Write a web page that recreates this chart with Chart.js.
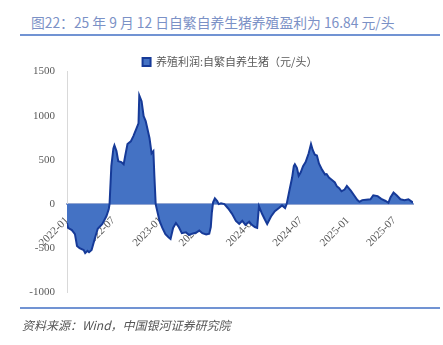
<!DOCTYPE html>
<html>
<head>
<meta charset="utf-8">
<script src="https://cdn.jsdelivr.net/npm/chart.js@4/dist/chart.umd.min.js"></script>
<style>
  body { margin: 0; width: 443px; height: 345px; background: #fff; position: relative; overflow: hidden; }
  #title { position: absolute; left: 31px; top: 12px; font: 13.8px "Noto Sans CJK SC", sans-serif; color: #7b91c6; white-space: nowrap; }
  .rule { position: absolute; left: 20px; width: 420px; height: 2px; background: #7193d3; }
  #src { position: absolute; left: 22px; top: 316px; font: italic 12px "Noto Sans CJK SC", sans-serif; color: #555; white-space: nowrap; }
  #wrap { position: absolute; left: 20px; top: 53px; width: 420px; height: 258px; }
</style>
</head>
<body>
<div id="title">图22：25 年 9 月 12 日自繁自养生猪养殖盈利为 16.84 元/头</div>
<div class="rule" style="top:34px"></div>
<div id="wrap"><canvas id="profitChart"></canvas></div>
<div class="rule" style="top:307px"></div>
<div id="src">资料来源：Wind，中国银河证券研究院</div>
<script>
const seriesName = '养殖利润:自繁自养生猪（元/头）';

const dates = [
  '2022-01-01', '2022-01-05', '2022-01-20', '2022-02-01', '2022-02-09', '2022-02-19', '2022-03-07', '2022-03-13',
  '2022-03-22', '2022-03-28', '2022-04-07', '2022-04-19', '2022-05-01', '2022-05-19', '2022-06-04', '2022-06-13',
  '2022-06-16', '2022-06-23', '2022-07-01', '2022-07-05', '2022-07-13', '2022-07-20', '2022-08-01', '2022-08-10',
  '2022-08-16', '2022-08-25', '2022-09-07', '2022-09-17', '2022-09-28', '2022-10-07', '2022-10-10', '2022-10-19',
  '2022-10-27', '2022-11-04', '2022-11-11', '2022-11-19', '2022-11-27', '2022-12-04', '2022-12-08', '2022-12-13',
  '2022-12-16', '2022-12-28', '2023-01-08', '2023-01-20', '2023-02-01', '2023-02-09', '2023-02-19', '2023-03-02',
  '2023-03-13', '2023-03-25', '2023-04-10', '2023-04-22', '2023-05-04', '2023-05-19', '2023-06-01', '2023-06-13',
  '2023-06-28', '2023-07-10', '2023-07-16', '2023-07-20', '2023-07-25', '2023-08-01', '2023-08-10', '2023-08-16',
  '2023-08-25', '2023-09-07', '2023-09-22', '2023-10-07', '2023-10-22', '2023-11-04', '2023-11-16', '2023-11-28',
  '2023-12-13', '2023-12-23', '2024-01-04', '2024-01-13', '2024-01-20', '2024-02-01', '2024-02-12', '2024-02-21',
  '2024-03-07', '2024-03-22', '2024-04-07', '2024-04-19', '2024-05-01', '2024-05-07', '2024-05-19', '2024-05-28',
  '2024-06-04', '2024-06-08', '2024-06-16', '2024-06-23', '2024-07-01', '2024-07-10', '2024-07-20', '2024-08-01',
  '2024-08-10', '2024-08-17', '2024-08-25', '2024-09-02', '2024-09-10', '2024-09-22', '2024-10-04', '2024-10-10',
  '2024-10-19', '2024-11-01', '2024-11-11', '2024-11-19', '2024-11-28', '2024-12-07', '2024-12-19', '2024-12-28',
  '2025-01-13', '2025-01-25', '2025-02-07', '2025-02-15', '2025-02-26', '2025-03-13', '2025-03-30', '2025-04-10',
  '2025-04-27', '2025-05-11', '2025-05-28', '2025-06-08', '2025-06-16', '2025-06-28', '2025-07-10', '2025-07-25',
  '2025-08-10', '2025-08-25', '2025-09-12'
];

const profit = [
  -215, -270, -295, -340, -475, -500, -520, -555,
  -530, -545, -520, -395, -280, -225, -135, -55,
  0, 430, 630, 665, 600, 485, 475, 450,
  545, 680, 710, 770, 850, 915, 1230, 1165,
  995, 940, 850, 745, 575, 600, 315, 0,
  -40, -190, -270, -340, -375, -395, -270, -215,
  -260, -330, -320, -350, -335, -325, -300, -330,
  -345, -335, -260, -100, 20, 65, 35, 0,
  10, 0, -50, -110, -190, -225, -190, -235,
  -200, -235, -260, -270, -25, -110, -175, -225,
  -140, -80, -45, -15, -45, 0, 170, 295,
  430, 450, 410, 320, 360, 430, 475, 575,
  680, 610, 560, 550, 460, 390, 335, 340,
  300, 270, 245, 200, 180, 145, 165, 205,
  150, 100, 45, 25, 45, 50, 55, 100,
  90, 60, 35, 15, 75, 130, 100, 55,
  45, 55, 16.84
];

const tickDates = ['2022-01-01', '2022-07-01', '2023-01-01', '2023-07-01', '2024-01-01', '2024-07-01', '2025-01-01', '2025-07-01'];
const yTicks = [-1000, -500, 0, 500, 1000, 1500];

const points = dates.map((d, i) => ({ x: Date.parse(d), y: profit[i] }));

new Chart(document.getElementById('profitChart'), {
  type: 'line',
  data: {
    datasets: [{
      label: seriesName,
      data: points,
      fill: 'origin',
      backgroundColor: '#4472c4',
      borderColor: '#163a98',
      borderWidth: 2,
      pointRadius: 0,
      tension: 0
    }]
  },
  options: {
    responsive: true,
    maintainAspectRatio: false,
    animation: false,
    layout: { padding: 0 },
    plugins: {
      legend: {
        position: 'top',
        maxHeight: 17,
        labels: {
          boxWidth: 8,
          boxHeight: 8,
          padding: 2,
          color: '#595959',
          font: { family: '"Noto Sans CJK SC", sans-serif', size: 11 }
        }
      },
      tooltip: { enabled: false }
    },
    scales: {
      x: {
        type: 'linear',
        position: { y: 0 },
        z: 1,
        min: Date.parse(dates[0]),
        max: Date.parse(dates[dates.length - 1]),
        afterBuildTicks: (scale) => {
          scale.ticks = tickDates.map(d => ({ value: Date.parse(d) }));
        },
        afterFit: (scale) => { scale.height = 0; },
        grid: { display: false },
        border: { display: true, color: '#93a6d2', width: 2 },
        ticks: {
          autoSkip: false,
          maxRotation: 45,
          minRotation: 45,
          padding: 2,
          color: '#595959',
          font: { family: '"Liberation Serif", serif', size: 11 },
          callback: (value) => {
            const d = new Date(value);
            return d.getUTCFullYear() + '-' + String(d.getUTCMonth() + 1).padStart(2, '0');
          }
        }
      },
      y: {
        min: -1000,
        max: 1500,
        afterFit: (scale) => { scale.width = 47; },
        afterBuildTicks: (scale) => {
          scale.ticks = yTicks.map(v => ({ value: v }));
        },
        grid: { display: false, drawTicks: false },
        border: { display: true, color: '#d9d9d9', width: 1 },
        ticks: {
          padding: 12,
          color: '#595959',
          font: { family: '"Liberation Serif", serif', size: 11 },
          callback: (value) => String(value)
        }
      },
      // empty right axis, only reserves the space right of the plot
      y2: {
        position: 'right',
        afterFit: (scale) => { scale.width = 27; },
        grid: { display: false },
        border: { display: false },
        ticks: { display: false }
      }
    }
  }
});
</script>
</body>
</html>
